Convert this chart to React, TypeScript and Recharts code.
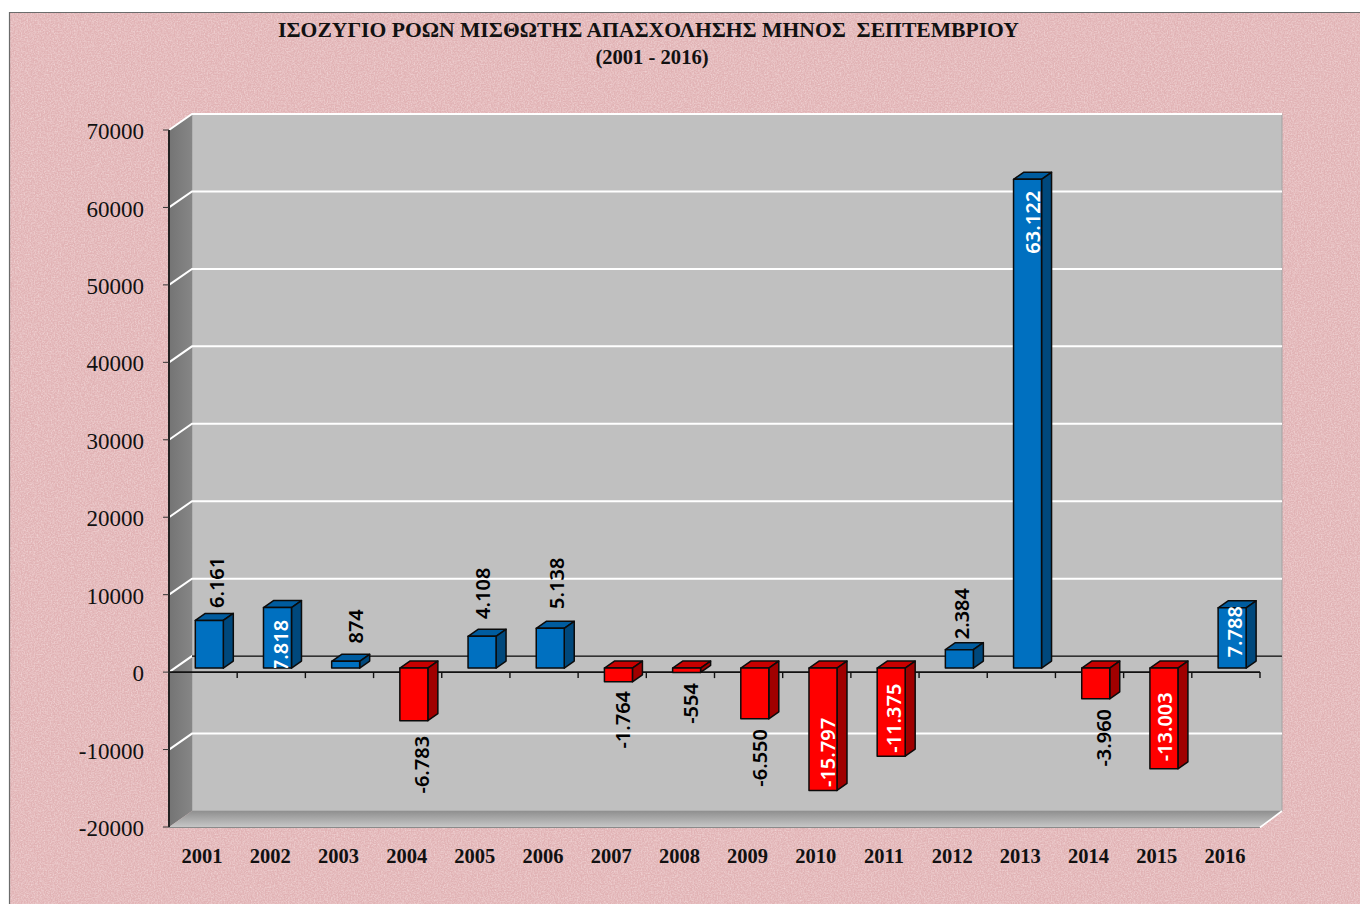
import React from "react";
import {
  BarChart,
  Bar,
  XAxis,
  YAxis,
  CartesianGrid,
  ReferenceLine,
  LabelList,
} from "recharts";

/* ---------- data ---------- */
const years = [
  "2001", "2002", "2003", "2004", "2005", "2006", "2007", "2008",
  "2009", "2010", "2011", "2012", "2013", "2014", "2015", "2016",
];
const balance = [
  6161, 7818, 874, -6783, 4108, 5138, -1764, -554,
  -6550, -15797, -11375, 2384, 63122, -3960, -13003, 7788,
];
const yTicks = [-20000, -10000, 0, 10000, 20000, 30000, 40000, 50000, 60000, 70000];
const titleLines = ["ΙΣΟΖΥΓΙΟ ΡΟΩΝ ΜΙΣΘΩΤΗΣ ΑΠΑΣΧΟΛΗΣΗΣ ΜΗΝΟΣ  ΣΕΠΤΕΜΒΡΙΟΥ", "(2001 - 2016)"];

const tableData = years.map((year, i) => ({ year, value: balance[i] }));

/* ---------- layout ---------- */
const W = 1360;
const H = 904;
const LEFT = 169;
const RIGHT = 1260;
const TOP = 130;
const BOTTOM = 827;
// how far the back wall sits behind the front plane
const WALL_DX = 23;
const WALL_DY = 16;
// bars stand part way into the floor
const BAR_DX = 6.3;
const BAR_DY = 4;
const BAR_DEPTH_X = 10;
const BAR_DEPTH_Y = 7;

// label centre relative to the category centre / end of the bar
const labelShift: Array<[number, number]> = [
  [14, -42], [9, 34], [16, -39], [14, 40], [7, -47], [13, -49], [10, 34], [10, 27],
  [11, 35], [11, -42], [9, -42], [8, -40], [11, 39], [14, 35], [7, -46], [9, 20],
];
const whiteLabels = ["2002", "2010", "2011", "2013", "2015", "2016"];

const SERIF = "'Liberation Serif', serif";

const thousands = (v: number) =>
  String(v).replace(/\B(?=(\d{3})+(?!\d))/g, ".");

/* ---------- backdrop: paper and the box walls ---------- */
const Backdrop = () => (
  <svg width={W} height={H} style={{ position: "absolute", left: 0, top: 0 }}>
    <defs>
      <filter id="paper" x="0" y="0" width="100%" height="100%">
        <feTurbulence type="fractalNoise" baseFrequency="0.7" numOctaves={2} seed={4} />
        <feColorMatrix
          type="matrix"
          values="0 0 0 0 0.98  0 0 0 0 0.86  0 0 0 0 0.86  1.6 0 0 0 -0.55"
        />
      </filter>
      <linearGradient id="floor" x1="0" y1="0" x2="0" y2="1">
        <stop offset="0" stopColor="#8f8f8f" />
        <stop offset="1" stopColor="#c6c6c6" />
      </linearGradient>
      <linearGradient id="sideWall" x1="0" y1="0" x2="1" y2="0">
        <stop offset="0" stopColor="#747474" />
        <stop offset="1" stopColor="#868686" />
      </linearGradient>
    </defs>
    <rect x={10} y={12} width={W - 10} height={H - 12} fill="#e1b3b5" />
    <rect x={10} y={12} width={W - 10} height={H - 12} filter="url(#paper)" opacity={0.6} />
    <path d={`M9.5 ${H} V12.5 H${W}`} fill="none" stroke="#6b6b6b" strokeWidth={1.2} />
    <rect
      x={LEFT + WALL_DX}
      y={TOP - WALL_DY}
      width={RIGHT - LEFT - 1}
      height={BOTTOM - TOP}
      fill="#c0c0c0"
      stroke="#a3a3a3"
      strokeWidth={1}
    />
    <polygon
      points={`${LEFT},${TOP} ${LEFT + WALL_DX},${TOP - WALL_DY} ${LEFT + WALL_DX},${BOTTOM - WALL_DY} ${LEFT},${BOTTOM}`}
      fill="url(#sideWall)"
    />
    <polygon
      points={`${LEFT},${BOTTOM} ${LEFT + WALL_DX},${BOTTOM - WALL_DY} ${RIGHT + WALL_DX - 1},${BOTTOM - WALL_DY} ${RIGHT},${BOTTOM}`}
      fill="url(#floor)"
    />
    <line x1={LEFT} y1={BOTTOM + 0.5} x2={RIGHT} y2={BOTTOM + 0.5} stroke="#8a8a8a" strokeWidth={1} />
    <line
      x1={RIGHT}
      y1={BOTTOM + 0.5}
      x2={RIGHT + WALL_DX - 1}
      y2={BOTTOM - WALL_DY}
      stroke="#fff"
      strokeWidth={1.6}
    />
  </svg>
);

/* ---------- grid lines wrap round the left wall ---------- */
const wallGridLine = (p: any) => {
  if (p.y1 >= BOTTOM - 1) return <g key={p.key} />;
  const backY = p.y1 - WALL_DY;
  return (
    <path
      key={p.key}
      d={`M${p.x1} ${p.y1} L${p.x1 + WALL_DX} ${backY} H${p.x2 + WALL_DX - 1}`}
      fill="none"
      stroke="#fff"
      strokeWidth={2}
    />
  );
};

/* ---------- zero line: dark on the back wall, ticked on the front ---------- */
const ZeroLine = (p: any) => {
  const step = (p.x2 - p.x1) / years.length;
  return (
    <g>
      <line
        x1={p.x1 + WALL_DX}
        x2={p.x2 + WALL_DX - 1}
        y1={p.y1 - WALL_DY}
        y2={p.y1 - WALL_DY}
        stroke="#333"
        strokeWidth={1.6}
      />
      <line x1={p.x1} x2={p.x2} y1={p.y1} y2={p.y1} stroke="#111" strokeWidth={1.8} />
      {years.map((y, i) => (
        <line
          key={y}
          x1={p.x1 + step * (i + 1)}
          x2={p.x1 + step * (i + 1)}
          y1={p.y1}
          y2={p.y1 + 6}
          stroke="#111"
          strokeWidth={1.4}
        />
      ))}
    </g>
  );
};

/* ---------- 3d column ---------- */
const Box = (p: any) => {
  const up = p.value >= 0;
  const left = p.x + BAR_DX;
  const right = left + p.width;
  const top = Math.min(p.y, p.y + p.height) - BAR_DY;
  const bottom = Math.max(p.y, p.y + p.height) - BAR_DY;
  const dx = BAR_DEPTH_X;
  const dy = BAR_DEPTH_Y;
  const edge = { stroke: "#0b0b0b", strokeWidth: 1.5, strokeLinejoin: "round" as const };
  return (
    <g>
      <polygon
        points={`${left},${top} ${left + dx},${top - dy} ${right + dx},${top - dy} ${right},${top}`}
        fill={up ? "#005c9f" : "#c80000"}
        {...edge}
      />
      <polygon
        points={`${right},${top} ${right + dx},${top - dy} ${right + dx},${bottom - dy} ${right},${bottom}`}
        fill={up ? "#00487c" : "#a00000"}
        {...edge}
      />
      <rect x={left} y={top} width={p.width} height={bottom - top} fill={up ? "#0070c0" : "#ff0000"} {...edge} />
    </g>
  );
};

/* ---------- rotated value label ---------- */
const ValueLabel = (p: any) => {
  const i = p.index;
  const v = balance[i];
  const top = Math.min(p.y, p.y + p.height);
  const bottom = Math.max(p.y, p.y + p.height);
  const [dx, dy] = labelShift[i];
  const cx = p.x + p.width / 2 + dx;
  const cy = (v >= 0 ? top : bottom) + dy;
  const white = whiteLabels.includes(years[i]);
  const clipId = `face-${i}`;
  return (
    <g>
      {white && (
        // only the foot of the bar cuts the text, 2002 runs past it
        <clipPath id={clipId}>
          <rect x={p.x + BAR_DX} y={top - BAR_DY - 4} width={p.width} height={bottom - top + 4} />
        </clipPath>
      )}
      <g clipPath={white ? `url(#${clipId})` : undefined}>
        <text
          x={cx}
          y={cy}
          transform={`rotate(-90 ${cx} ${cy})`}
          textAnchor="middle"
          dominantBaseline="central"
          fontFamily="'Noto Sans', sans-serif"
          fontWeight={600}
          fontSize={20}
          fill={white ? "#fff" : "#000"}
        >
          {thousands(v)}
        </text>
      </g>
    </g>
  );
};

/* ---------- component ---------- */
export default function App() {
  return (
    <div style={{ position: "absolute", left: 0, top: 0, width: W, height: H, overflow: "hidden", background: "#fff" }}>
      <Backdrop />
      <div style={{ position: "absolute", left: 0, top: 0 }}>
        <BarChart
          width={W}
          height={H}
          data={tableData}
          margin={{ top: TOP, right: W - RIGHT, bottom: 0, left: 0 }}
          barCategoryGap={0}
          barSize={28}
        >
          <CartesianGrid vertical={false} horizontal={wallGridLine} stroke="#fff" />
          <XAxis
            dataKey="year"
            height={H - BOTTOM}
            axisLine={false}
            tickLine={false}
            tickMargin={15}
            interval={0}
            tick={{ fontFamily: SERIF, fontWeight: 700, fontSize: 20.5, fill: "#111", dx: -1 }}
          />
          <YAxis
            width={LEFT}
            domain={[-20000, 70000]}
            ticks={yTicks}
            interval={0}
            allowDataOverflow
            tickSize={6}
            tickMargin={19}
            axisLine={{ stroke: "#222", strokeWidth: 2 }}
            tickLine={{ stroke: "#333" }}
            tick={{ fontFamily: SERIF, fontSize: 23, fill: "#111", dy: 1 }}
          />
          <ReferenceLine y={0} shape={ZeroLine} zIndex={100} />
          <Bar dataKey="value" shape={Box} isAnimationActive={false}>
            <LabelList dataKey="value" content={ValueLabel} />
          </Bar>
          <text x={648.5} y={37} textAnchor="middle" fontFamily={SERIF} fontWeight={700} fontSize={21.6} fill="#111" style={{ whiteSpace: "pre" }}>
            {titleLines[0]}
          </text>
          <text x={652} y={64} textAnchor="middle" fontFamily={SERIF} fontWeight={700} fontSize={20.6} fill="#111">
            {titleLines[1]}
          </text>
        </BarChart>
      </div>
    </div>
  );
}
